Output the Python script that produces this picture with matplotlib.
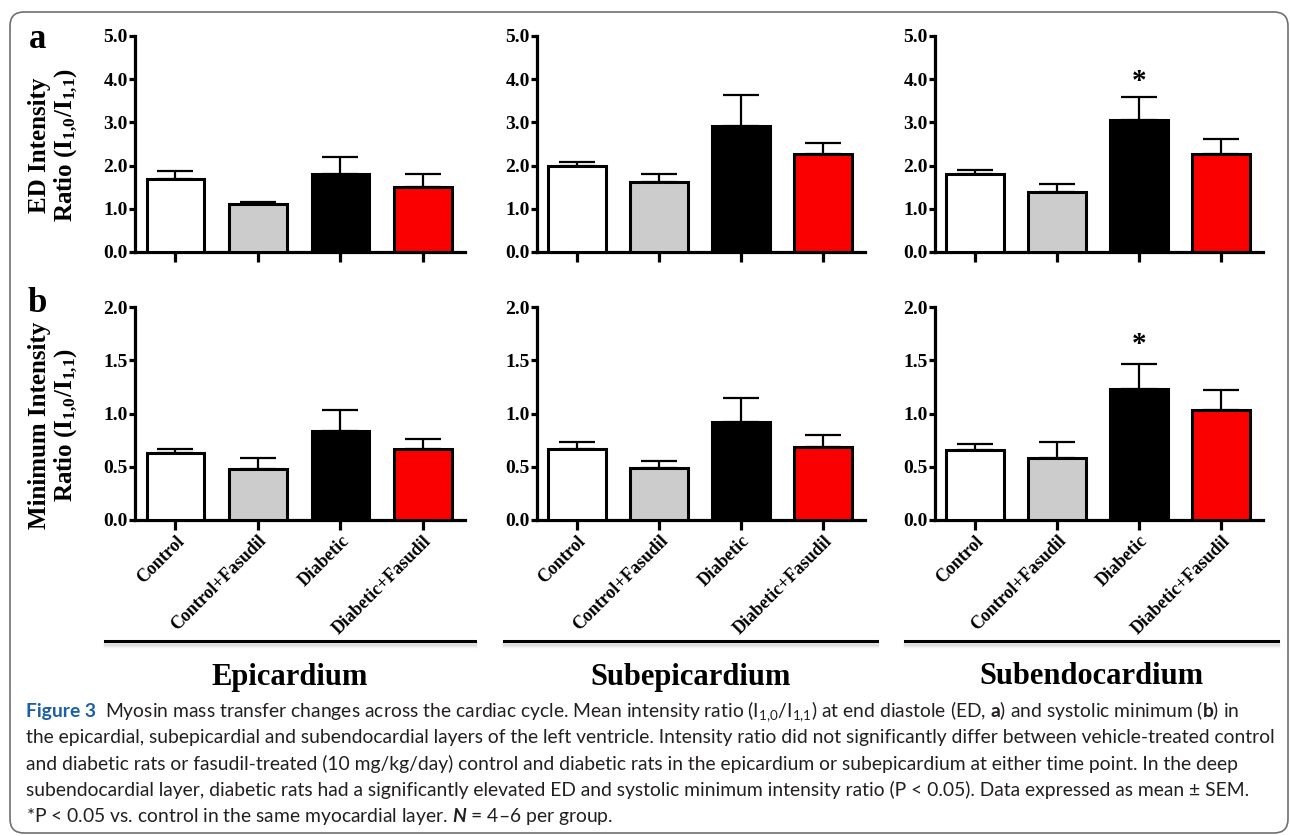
import numpy as np
import matplotlib
matplotlib.use("Agg")
import matplotlib.pyplot as plt
from matplotlib.lines import Line2D
from matplotlib.patches import FancyBboxPatch
from matplotlib.transforms import IdentityTransform

# ---------------------------------------------------------------------------
# Data
# ---------------------------------------------------------------------------
groups = ["Control", "Control+Fasudil", "Diabetic", "Diabetic+Fasudil"]
layers = ["Epicardium", "Subepicardium", "Subendocardium"]
bar_colors = ["white", "#cccccc", "black", "#fa0000"]

# end diastole intensity ratio, mean and SEM
ed_epi_mean = [1.70, 1.12, 1.81, 1.50]
ed_epi_sem = [0.18, 0.04, 0.39, 0.30]
ed_subepi_mean = [1.99, 1.63, 2.91, 2.28]
ed_subepi_sem = [0.09, 0.17, 0.73, 0.24]
ed_subendo_mean = [1.80, 1.40, 3.06, 2.26]
ed_subendo_sem = [0.09, 0.17, 0.52, 0.35]

# systolic minimum intensity ratio, mean and SEM
min_epi_mean = [0.63, 0.475, 0.84, 0.67]
min_epi_sem = [0.04, 0.11, 0.19, 0.09]
min_subepi_mean = [0.67, 0.49, 0.92, 0.685]
min_subepi_sem = [0.06, 0.065, 0.23, 0.11]
min_subendo_mean = [0.655, 0.58, 1.23, 1.03]
min_subendo_sem = [0.055, 0.15, 0.235, 0.19]

ed_yticks = [0.0, 1.0, 2.0, 3.0, 4.0, 5.0]
min_yticks = [0.0, 0.5, 1.0, 1.5, 2.0]

# significance stars: (row, column, group index, y)
stars = [(0, 2, 2, 3.95), (1, 2, 2, 1.65)]

caption_lines = [
    r"the epicardial, subepicardial and subendocardial layers of the left ventricle. "
    r"Intensity ratio did not significantly differ between vehicle-treated control",
    r"and diabetic rats or fasudil-treated (10 mg/kg/day) control and diabetic rats in the "
    r"epicardium or subepicardium at either time point. In the deep",
    r"subendocardial layer, diabetic rats had a significantly elevated ED and systolic minimum "
    r"intensity ratio (P < 0.05). Data expressed as mean ± SEM.",
    r"*P < 0.05 vs. control in the same myocardial layer. $\mathit{N}$ = 4–6 per group.",
]
caption_first = (r"Myosin mass transfer changes across the cardiac cycle. Mean intensity ratio "
                 r"(I$\mathregular{_{1{,}0}}$/I$\mathregular{_{1{,}1}}$) at end diastole (ED, "
                 r"$\mathbf{a}$) and systolic minimum ($\mathbf{b}$) in")

ratio_label = r"Ratio (I$\mathregular{_{1{,}0}}$/I$\mathregular{_{1{,}1}}$)"

# ---------------------------------------------------------------------------
plt.rcParams["font.family"] = ["Liberation Serif", "DejaVu Serif"]
plt.rcParams["font.weight"] = "bold"
plt.rcParams["mathtext.fontset"] = "custom"
plt.rcParams["mathtext.rm"] = "Lato"
plt.rcParams["mathtext.it"] = "Lato:italic"
plt.rcParams["mathtext.bf"] = "Lato:bold"

W, H = 1290, 836
fig = plt.figure(figsize=(W / 100, H / 100), dpi=100)


def fx(x):
    return x / W


def fy(y):
    return 1 - y / H


col_x = [(135, 465), (537, 865), (935, 1263)]
row_y = [(36, 252), (307, 520)]

means = [[ed_epi_mean, ed_subepi_mean, ed_subendo_mean],
         [min_epi_mean, min_subepi_mean, min_subendo_mean]]
sems = [[ed_epi_sem, ed_subepi_sem, ed_subendo_sem],
        [min_epi_sem, min_subepi_sem, min_subendo_sem]]
yticks = [ed_yticks, min_yticks]

x = np.arange(len(groups))
axes = {}
for r, (yt, yb) in enumerate(row_y):
    for c, (xl, xr) in enumerate(col_x):
        ax = fig.add_axes([fx(xl), fy(yb), (xr - xl) / W, (yb - yt) / H])
        axes[r, c] = ax
        m = np.array(means[r][c])
        s = np.array(sems[r][c])
        ax.errorbar(x, m, yerr=[np.zeros_like(s), s], fmt="none", ecolor="black",
                    elinewidth=1.6, capsize=13, capthick=1.6, zorder=2)
        ax.bar(x, m, width=0.7, color=bar_colors, edgecolor="black",
               linewidth=2.2, zorder=3)
        ax.set_xlim(-0.49, 3.51)
        ax.set_ylim(yticks[r][0], yticks[r][-1])
        ax.set_yticks(yticks[r])
        ax.set_yticklabels([f"{v:.1f}" for v in yticks[r]])
        ax.set_xticks(x)
        if r == 1:
            ax.set_xticklabels(groups, rotation=45, ha="right",
                               rotation_mode="anchor", fontsize=13)
        else:
            ax.set_xticklabels([])
        for side in ["top", "right"]:
            ax.spines[side].set_visible(False)
        for side in ["left", "bottom"]:
            ax.spines[side].set_linewidth(2.3)
        ax.spines["left"].set_capstyle("projecting")
        ax.tick_params(axis="y", length=4, width=2.3, pad=1, labelsize=14)
        ax.tick_params(axis="x", length=7, width=2.3, pad=2)
        ax.set_facecolor("none")

for r, c, g, yv in stars:
    axes[r, c].text(x[g], yv, "*", ha="center", va="center", fontsize=21,
                    fontweight="bold")

# panel letters and y labels
fig.text(fx(29), fy(48), "a", fontsize=25, fontweight="bold", va="baseline")
fig.text(fx(27), fy(312), "b", fontsize=25, fontweight="bold", va="baseline")
fig.text(fx(54), fy(145), "ED Intensity\n" + ratio_label,
         rotation=90, ha="center", va="center", multialignment="center",
         fontsize=18, fontweight="bold", linespacing=1.1)
fig.text(fx(54), fy(425), "Minimum Intensity\n" + ratio_label,
         rotation=90, ha="center", va="center", multialignment="center",
         fontsize=18, fontweight="bold", linespacing=1.1)

# underlines with a soft shadow, and layer titles
under_x = [(105, 475), (504, 877), (905, 1278)]
for (xa, xb), name in zip(under_x, layers):
    for dy, a in [(4.5, 0.05), (3.2, 0.1)]:
        fig.add_artist(Line2D([fx(xa), fx(xb)], [fy(641 + dy), fy(641 + dy)],
                              color="black", alpha=a, lw=2.5))
    fig.add_artist(Line2D([fx(xa), fx(xb)], [fy(641), fy(641)], color="black", lw=2.2))
    fig.text(fx((xa + xb) / 2), fy(677), name, ha="center", va="center",
             fontsize=22, fontweight="bold")

# caption
renderer = fig.canvas.get_renderer()
cap_kw = dict(family=["Lato", "DejaVu Sans"], fontweight="normal", color="#231f20",
              va="baseline", ha="left")
base = [743, 770, 796, 822]
cap_texts = [fig.text(fx(26), fy(b), s, fontsize=11.5, **cap_kw)
             for b, s in zip(base, caption_lines)]
w2 = cap_texts[0].get_window_extent(renderer).width
fs = 11.5 * 1249 / w2
for t in cap_texts:
    t.set_fontsize(fs)
fig_lbl = fig.text(fx(26), fy(717), "Figure 3", fontsize=fs,
                   family=["Lato", "DejaVu Sans"], fontweight="bold",
                   color="#1a5fa8", va="baseline", ha="left")
wl = fig_lbl.get_window_extent(renderer).width
fig.text(fx(26 + wl + 9), fy(717), caption_first, fontsize=fs, **cap_kw)

# rounded frame
frame = FancyBboxPatch((10, H - 833), 1278, 821,
                       boxstyle="round,pad=0,rounding_size=14",
                       transform=IdentityTransform(), fill=False,
                       edgecolor="#707070", linewidth=1.2)
fig.add_artist(frame)

fig.savefig("out.png", dpi=100)
